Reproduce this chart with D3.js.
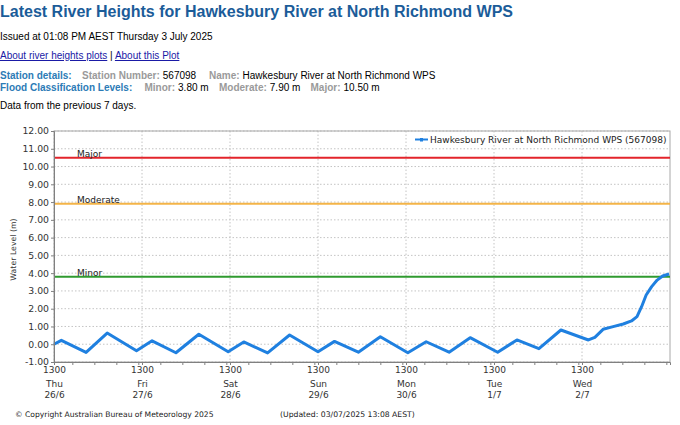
<!DOCTYPE html>
<html>
<head>
<meta charset="utf-8">
<script src="https://cdn.jsdelivr.net/npm/d3@7"></script>
<style>
  body { margin: 0; background: #fff; }
  svg { display: block; }
</style>
</head>
<body>
<div class="canva"></div>
<script>
// river level readings, local AEST
const times = [
  "2025-06-26 13:00", "2025-06-26 15:00", "2025-06-26 21:45", "2025-06-27 03:30",
  "2025-06-27 11:30", "2025-06-27 15:45", "2025-06-27 22:15", "2025-06-28 04:30",
  "2025-06-28 12:30", "2025-06-28 16:45", "2025-06-28 23:15", "2025-06-29 05:15",
  "2025-06-29 13:00", "2025-06-29 17:30", "2025-06-30 00:00", "2025-06-30 06:00",
  "2025-06-30 13:30", "2025-06-30 18:30", "2025-07-01 00:45", "2025-07-01 06:30",
  "2025-07-01 14:00", "2025-07-01 19:15", "2025-07-02 01:15", "2025-07-02 07:15",
  "2025-07-02 14:45", "2025-07-02 16:30", "2025-07-02 18:45", "2025-07-02 21:30",
  "2025-07-03 00:15", "2025-07-03 02:30", "2025-07-03 04:00", "2025-07-03 05:15",
  "2025-07-03 06:30", "2025-07-03 08:00", "2025-07-03 09:30", "2025-07-03 11:00",
  "2025-07-03 12:45"
];
const levels = [
  0.00, 0.22, -0.46, 0.63,
  -0.37, 0.19, -0.48, 0.56,
  -0.42, 0.13, -0.49, 0.52,
  -0.42, 0.16, -0.45, 0.42,
  -0.48, 0.14, -0.45, 0.37,
  -0.45, 0.24, -0.25, 0.80,
  0.24, 0.39, 0.84, 0.99,
  1.14, 1.31, 1.55, 2.11,
  2.77, 3.24, 3.61, 3.84,
  3.95
];

// flood classification levels
const floodNames = ["Major", "Moderate", "Minor"];
const floodLevels = [10.50, 7.90, 3.80];
const floodColors = ["#e3242b", "#f4b447", "#2f9a2f"];

// axis labels
const dayNames = ["Thu", "Fri", "Sat", "Sun", "Mon", "Tue", "Wed"];
const dayDates = ["26/6", "27/6", "28/6", "29/6", "30/6", "1/7", "2/7"];
const yTicks = [-1, 0, 1, 2, 3, 4, 5, 6, 7, 8, 9, 10, 11, 12];

const parse = d3.timeParse("%Y-%m-%d %H:%M");
const data = times.map((t, i) => ({ t: parse(t), v: levels[i] }));

const W = 680, H = 425;
const plot = { left: 54, right: 670, top: 131, bottom: 362 };

const svg = d3.select('.canva').append('svg')
  .attr('width', W)
  .attr('height', H);

// ---------- page header ----------
const hdr = "Liberation Sans, Arial, sans-serif";

svg.append('text')
  .text('Latest River Heights for Hawkesbury River at North Richmond WPS')
  .attr('x', 0).attr('y', 17)
  .attr('font-family', hdr).attr('font-size', 16).attr('font-weight', 'bold')
  .attr('fill', '#1b5c99');

svg.append('text')
  .text('Issued at 01:08 PM AEST Thursday 3 July 2025')
  .attr('x', 0).attr('y', 40)
  .attr('font-family', hdr).attr('font-size', 10).attr('fill', '#000');

const links = svg.append('text')
  .attr('x', 0).attr('y', 59)
  .attr('font-family', hdr).attr('font-size', 10);
links.append('tspan').text('About river heights plots')
  .attr('fill', '#1a1aa6').attr('text-decoration', 'underline');
links.append('tspan').text(' | ').attr('fill', '#000');
links.append('tspan').text('About this Plot')
  .attr('fill', '#1a1aa6').attr('text-decoration', 'underline');

// label/value pairs: each label at a fixed x, its value right after it
function infoRow(y, title, pairs) {
  const t = svg.append('text').attr('y', y)
    .attr('font-family', hdr).attr('font-size', 10);
  t.append('tspan').text(title).attr('x', 0)
    .attr('fill', '#2c7bb6').attr('font-weight', 'bold');
  pairs.forEach(p => {
    const lab = t.append('tspan').text(p[0]).attr('x', p[1])
      .attr('fill', '#9a9a9a').attr('font-weight', 'bold');
    const w = lab.node().getComputedTextLength();
    t.append('tspan').text(p[2]).attr('x', p[1] + w + 3)
      .attr('fill', '#000');
  });
}
infoRow(79, 'Station details:', [
  ['Station Number:', 82, '567098'],
  ['Name:', 209, 'Hawkesbury River at North Richmond WPS']
]);
infoRow(91, 'Flood Classification Levels:', [
  ['Minor:', 144.5, '3.80 m'],
  ['Moderate:', 219, '7.90 m'],
  ['Major:', 310.5, '10.50 m']
]);

svg.append('text')
  .text('Data from the previous 7 days.')
  .attr('x', 0).attr('y', 109)
  .attr('font-family', hdr).attr('font-size', 10).attr('fill', '#000');

// ---------- chart ----------
const chartFont = "DejaVu Sans, sans-serif";

const x = d3.scaleTime()
  .domain([parse("2025-06-26 13:00"), parse("2025-07-03 13:00")])
  .range([plot.left, plot.right]);

const y = d3.scaleLinear()
  .domain([-1, 12])
  .range([plot.bottom, plot.top]);

const majorTicks = dayNames.map((d, i) => d3.timeDay.offset(parse("2025-06-26 13:00"), i));
const minorTicks = d3.timeHour.every(6).range(x.domain()[0], d3.timeMinute.offset(x.domain()[1], 1));

// grid
svg.append('g')
  .selectAll('line')
  .data(yTicks)
  .join('line')
  .attr('x1', plot.left).attr('x2', plot.right)
  .attr('y1', d => y(d)).attr('y2', d => y(d))
  .attr('stroke', '#c4c4c4')
  .attr('stroke-dasharray', '1.5,2');

svg.append('g')
  .selectAll('line')
  .data(majorTicks)
  .join('line')
  .attr('x1', d => x(d)).attr('x2', d => x(d))
  .attr('y1', plot.top).attr('y2', plot.bottom)
  .attr('stroke', '#c4c4c4')
  .attr('stroke-dasharray', '1.5,2');

// frame
svg.append('rect')
  .attr('x', plot.left).attr('y', plot.top)
  .attr('width', plot.right - plot.left)
  .attr('height', plot.bottom - plot.top)
  .attr('fill', 'none')
  .attr('stroke', '#a8a8a8');

// flood lines
floodLevels.forEach((lv, i) => {
  svg.append('line')
    .attr('x1', plot.left).attr('x2', plot.right)
    .attr('y1', y(lv)).attr('y2', y(lv))
    .attr('stroke', floodColors[i])
    .attr('stroke-width', 2);
  svg.append('text')
    .text(floodNames[i])
    .attr('x', 77).attr('y', y(lv) - 0.5)
    .attr('font-family', chartFont).attr('font-size', 9)
    .attr('fill', '#222');
});

// river line
const line = d3.line()
  .x(d => x(d.t))
  .y(d => y(d.v));

svg.append('path')
  .datum(data)
  .attr('d', line)
  .attr('fill', 'none')
  .attr('stroke', '#1f80e0')
  .attr('stroke-width', 3)
  .attr('stroke-linejoin', 'round');

// y axis
const yAxis = svg.append('g')
  .attr('transform', `translate(${plot.left},0)`)
  .call(d3.axisLeft(y)
    .tickValues(yTicks)
    .tickSize(3)
    .tickPadding(2)
    .tickFormat(d => d.toFixed(2)));
yAxis.selectAll('text')
  .attr('font-family', chartFont).attr('font-size', 9.3).attr('fill', '#333');
yAxis.selectAll('line, path').attr('stroke', '#808080');

svg.append('text')
  .text('Water Level (m)')
  .attr('transform', `translate(16,${(plot.top + plot.bottom) / 2 + 3}) rotate(-90)`)
  .attr('text-anchor', 'middle')
  .attr('font-family', chartFont).attr('font-size', 7.8)
  .attr('fill', '#333');

// x axis: minor 6-hourly ticks, then labelled 13:00 ticks
const xMinor = svg.append('g')
  .attr('transform', `translate(0,${plot.bottom})`)
  .call(d3.axisBottom(x).tickValues(minorTicks).tickSize(3).tickFormat(''));
xMinor.selectAll('line, path').attr('stroke', '#808080');

const xAxis = svg.append('g')
  .attr('transform', `translate(0,${plot.bottom})`)
  .call(d3.axisBottom(x)
    .tickValues(majorTicks)
    .tickSize(3)
    .tickPadding(1.5)
    .tickFormat(d3.timeFormat('%H%M')));
xAxis.select('.domain').remove();
xAxis.selectAll('line').attr('stroke', '#808080');
xAxis.selectAll('text')
  .attr('font-family', chartFont).attr('font-size', 9).attr('fill', '#333');

xAxis.selectAll('.tick').each(function (d, i) {
  const g = d3.select(this);
  g.append('text').text(dayNames[i])
    .attr('y', 24.5).attr('text-anchor', 'middle')
    .attr('font-family', chartFont).attr('font-size', 9).attr('fill', '#333');
  g.append('text').text(dayDates[i])
    .attr('y', 36).attr('text-anchor', 'middle')
    .attr('font-family', chartFont).attr('font-size', 9).attr('fill', '#333');
});

// legend
svg.append('line')
  .attr('x1', 415).attr('x2', 428)
  .attr('y1', 139.5).attr('y2', 139.5)
  .attr('stroke', '#1f80e0').attr('stroke-width', 2);
svg.append('rect')
  .attr('x', 420).attr('y', 138).attr('width', 3).attr('height', 3.5)
  .attr('fill', '#1f80e0');
svg.append('text')
  .text('Hawkesbury River at North Richmond WPS (567098)')
  .attr('x', 430).attr('y', 142.5)
  .attr('font-family', chartFont).attr('font-size', 9)
  .attr('fill', '#222');

// footer
svg.append('text')
  .text('\u00A9 Copyright Australian Bureau of Meteorology 2025')
  .attr('x', 15).attr('y', 417)
  .attr('font-family', chartFont).attr('font-size', 7.6).attr('fill', '#222');
svg.append('text')
  .text('(Updated: 03/07/2025 13:08 AEST)')
  .attr('x', 280).attr('y', 417)
  .attr('font-family', chartFont).attr('font-size', 7.7).attr('fill', '#222');
</script>
</body>
</html>
